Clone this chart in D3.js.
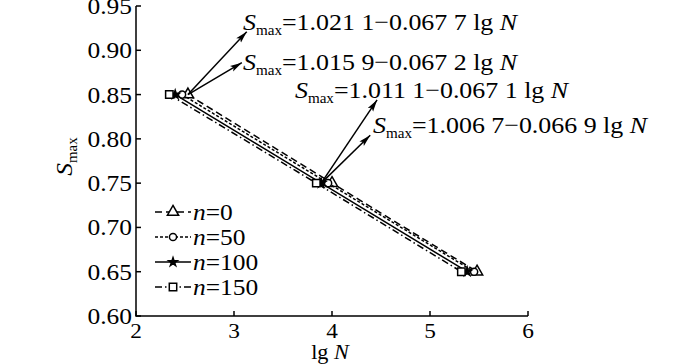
<!DOCTYPE html>
<html>
<head>
<meta charset="utf-8">
<script src="https://cdn.jsdelivr.net/npm/d3@7"></script>
<style>
  body { margin: 0; background: #fff; }
  text { font-family: "Times New Roman", "Liberation Serif", Tinos, Times, serif; fill: #000; }
</style>
</head>
<body>
<svg id="chart" width="700" height="364"></svg>
<script>
'use strict'

// data
const seriesLabels = ['0', '50', '100', '150']          // n values
const smaxLevels = [0.85, 0.75, 0.65]
const lgN_n0 = [2.53, 4.00, 5.48]
const lgN_n50 = [2.47, 3.96, 5.45]
const lgN_n100 = [2.40, 3.89, 5.38]
const lgN_n150 = [2.34, 3.84, 5.32]
const intercepts = ['1.021 1', '1.015 9', '1.011 1', '1.006 7']
const slopes = ['0.067 7', '0.067 2', '0.067 1', '0.066 9']
const xTicks = [2, 3, 4, 5, 6]
const yTicks = [0.60, 0.65, 0.70, 0.75, 0.80, 0.85, 0.90, 0.95]

const allLgN = [lgN_n0, lgN_n50, lgN_n100, lgN_n150]
const dashes = ['7,4', '3,2', null, '7,3,1.5,3']
const symbols = [d3.symbolTriangle, d3.symbolCircle, d3.symbolStar, d3.symbolSquare]
const symSize = [55, 40, 22, 55]

const FS = 24

const svg = d3.select('#chart')
const x = d3.scaleLinear().domain([2, 6]).range([136, 528])
const y = d3.scaleLinear().domain([0.60, 0.95]).range([316, 6])

svg.append('defs').append('marker')
  .attr('id', 'arrow')
  .attr('viewBox', '0 -4 12 8')
  .attr('refX', 12).attr('refY', 0)
  .attr('markerWidth', 12).attr('markerHeight', 8)
  .attr('markerUnits', 'userSpaceOnUse')
  .attr('orient', 'auto')
  .append('path').attr('d', 'M0,-3.2L12,0L0,3.2L2.5,0Z').attr('fill', '#000')

// text helper, widened horizontally (the source type is a bit wide)
function label (g, px, py, anchor, sx, fs) {
  return g.append('text')
    .attr('transform', `translate(${px},${py}) scale(${sx || 1.06},1)`)
    .attr('text-anchor', anchor || 'start')
    .style('font-size', (fs || FS) + 'px')
}

// axes (ticks point inward)
const axes = svg.append('g')
axes.append('path')
  .attr('d', `M${x(2)},${y(0.95)}V${y(0.6)}H${x(6)}`)
  .attr('fill', 'none').attr('stroke', '#000').attr('stroke-width', 1.5)
axes.selectAll('.yt').data(yTicks).enter().append('line')
  .attr('x1', x(2)).attr('x2', x(2) + 5)
  .attr('y1', d => y(d)).attr('y2', d => y(d))
  .attr('stroke', '#000').attr('stroke-width', 1.5)
axes.selectAll('.xt').data(xTicks).enter().append('line')
  .attr('x1', d => x(d)).attr('x2', d => x(d))
  .attr('y1', y(0.6)).attr('y2', y(0.6) - 5)
  .attr('stroke', '#000').attr('stroke-width', 1.5)
yTicks.forEach(d => {
  label(axes, x(2) - 4, y(d) + 8, 'end').text(d.toFixed(2))
})
xTicks.forEach(d => {
  label(axes, x(d), y(0.6) + 22, 'middle', 1.06, 22).text(d)
})

// axis titles
const xt = label(axes, x(4) - 2, 359, 'middle', 1.06, 21)
xt.append('tspan').text('lg ')
xt.append('tspan').style('font-style', 'italic').text('N')

const yt = axes.append('text')
  .attr('transform', `translate(72,${y(0.78)}) rotate(-90) scale(1.06,1)`)
  .attr('text-anchor', 'middle')
  .style('font-size', FS + 'px')
yt.append('tspan').style('font-style', 'italic').text('S')
yt.append('tspan').style('font-size', '14px').attr('dy', 5).text('max')

// series lines and markers
const line = d3.line().x(d => x(d[0])).y(d => y(d[1]))
allLgN.forEach((vals, i) => {
  const pts = vals.map((v, j) => [v, smaxLevels[j]])
  svg.append('path')
    .datum(pts)
    .attr('d', line)
    .attr('fill', 'none')
    .attr('stroke', '#000')
    .attr('stroke-width', 1.5)
    .attr('stroke-dasharray', dashes[i])
  svg.selectAll('.m' + i).data(pts).enter().append('path')
    .attr('transform', d => `translate(${x(d[0])},${y(d[1])})`)
    .attr('d', d3.symbol(symbols[i], symSize[i]))
    .attr('fill', i === 2 ? '#000' : '#fff')
    .attr('stroke', '#000')
    .attr('stroke-width', 1.5)
})

// equations and arrows (positions given in data units)
const eqAnchor = [[3.092, 0.923], [3.092, 0.878], [3.622, 0.846], [4.418, 0.807]]
const arrowTip = [[3.13, 0.921], [3.08, 0.886], [4.46, 0.844], [4.39, 0.804]]
const arrowFrom = [[lgN_n0[0], smaxLevels[0]], [lgN_n0[0], smaxLevels[0]],
  [lgN_n100[1], smaxLevels[1]], [lgN_n100[1], smaxLevels[1]]]

intercepts.forEach((b, i) => {
  svg.append('line')
    .attr('x1', x(arrowFrom[i][0])).attr('y1', y(arrowFrom[i][1]))
    .attr('x2', x(arrowTip[i][0])).attr('y2', y(arrowTip[i][1]))
    .attr('stroke', '#000').attr('stroke-width', 1.5)
    .attr('marker-end', 'url(#arrow)')
  const t = label(svg, x(eqAnchor[i][0]), y(eqAnchor[i][1]), 'start', 1.08)
  t.append('tspan').style('font-style', 'italic').text('S')
  t.append('tspan').style('font-size', '14px').attr('dy', 5).text('max')
  t.append('tspan').attr('dy', -5).text(`=${b}\u2212${slopes[i]} lg `)
  t.append('tspan').style('font-style', 'italic').text('N')
})

// legend
const legend = svg.append('g')
seriesLabels.forEach((n, i) => {
  const ly = 212 + i * 25
  legend.append('line')
    .attr('x1', 155).attr('x2', 191).attr('y1', ly).attr('y2', ly)
    .attr('stroke', '#000').attr('stroke-width', 1.5)
    .attr('stroke-dasharray', dashes[i])
  legend.append('path')
    .attr('transform', `translate(173,${ly})`)
    .attr('d', d3.symbol(symbols[i], symSize[i]))
    .attr('fill', i === 2 ? '#000' : '#fff')
    .attr('stroke', '#000').attr('stroke-width', 1.5)
  const t = label(legend, 193, ly + 8)
  t.append('tspan').style('font-style', 'italic').text('n')
  t.append('tspan').text('=' + n)
})
</script>
</body>
</html>
